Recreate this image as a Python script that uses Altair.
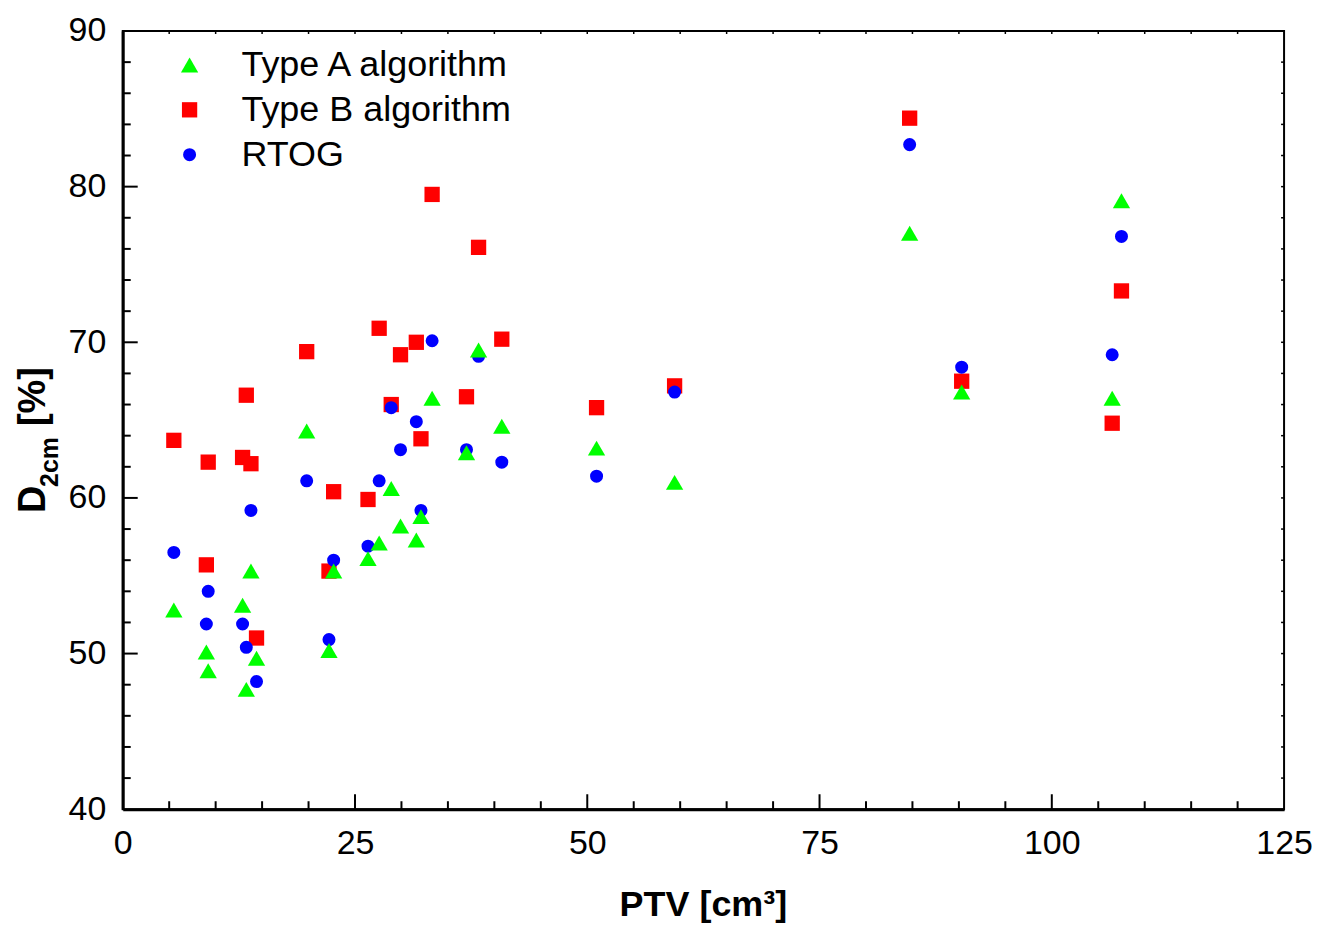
import altair as alt
import pandas as pd

# ---- data ----
ptv = [5.5, 9.0, 9.2, 12.9, 13.3, 13.8, 14.4, 19.8, 22.2, 22.7, 26.4, 27.6, 28.9,
       29.9, 31.6, 32.1, 33.3, 37.0, 38.3, 40.8, 51.0, 59.4, 84.7, 90.3, 106.5, 107.5]
type_a = [52.8, 50.1, 48.9, 53.1, 47.7, 55.3, 49.7, 64.3, 50.2, 55.3, 56.1, 57.1, 60.6,
          58.2, 57.3, 58.8, 66.4, 62.9, 69.5, 64.6, 63.2, 61.0, 77.0, 66.8, 66.4, 79.1]
type_b = [63.7, 55.7, 62.3, 62.6, 66.6, 62.2, 51.0, 69.4, 55.3, 60.4, 59.9, 70.9, 66.0,
          69.2, 70.0, 63.8, 79.5, 66.5, 76.1, 70.2, 65.8, 67.2, 84.4, 67.5, 64.8, 73.3]
rtog = [56.5, 51.9, 54.0, 51.9, 50.4, 59.2, 48.2, 61.1, 50.9, 56.0, 56.9, 61.1, 65.8,
        63.1, 64.9, 59.2, 70.1, 63.1, 69.1, 62.3, 61.4, 66.8, 82.7, 68.4, 69.2, 76.8]

series_names = ["Type A algorithm", "Type B algorithm", "RTOG"]
series_colors = ["#00ff00", "#ff0000", "#0000ff"]
series_shapes = ["triangle-up", "square", "circle"]

x_labels = [0, 25, 50, 75, 100, 125]
y_labels = [40, 50, 60, 70, 80, 90]
x_major = [25, 50, 75, 100]
x_minor = [5, 10, 15, 20, 30, 35, 40, 45, 55, 60, 65, 70, 80, 85, 90, 95, 105, 110, 115, 120]
y_major = [50, 60, 70, 80]
y_minor = [42, 44, 46, 48, 52, 54, 56, 58, 62, 64, 66, 68, 72, 74, 76, 78, 82, 84, 86, 88]

x_title = "PTV [cm³]"
y_title_main = "D"
y_title_sub = "2cm"
y_title_rest = " [%]"

# ---- build table (drawing order: B, RTOG, A on top) ----
rows = []
for name, vals in [("Type B algorithm", type_b), ("RTOG", rtog), ("Type A algorithm", type_a)]:
    for xv, yv in zip(ptv, vals):
        rows.append({"ptv": xv, "d2": yv, "series": name})
df = pd.DataFrame(rows)

W, H = 1164, 780
FONT = "Liberation Sans"

xscale = alt.Scale(domain=[0, 125], nice=False, zero=False)
yscale = alt.Scale(domain=[40, 90], nice=False, zero=False)
xaxis = alt.Axis(values=x_labels, ticks=False, grid=False, domainWidth=3,
                 domainColor="black", labelFontSize=34, labelFont=FONT,
                 labelColor="black", labelPadding=17, labelFlush=False, title=None)
yaxis = alt.Axis(values=y_labels, ticks=False, grid=False, domainWidth=3,
                 domainColor="black", labelFontSize=34, labelFont=FONT,
                 labelColor="black", labelPadding=17, title=None)

legend = alt.Legend(title=None, orient="none", legendX=49, legendY=16,
                    labelFontSize=36, labelFont=FONT, labelColor="black", labelLimit=600,
                    symbolSize=200, symbolStrokeWidth=0, labelOffset=34,
                    rowPadding=9, padding=0)

points = alt.Chart(df).mark_point(filled=True, opacity=1, strokeWidth=0).encode(
    x=alt.X("ptv:Q", scale=xscale, axis=xaxis),
    y=alt.Y("d2:Q", scale=yscale, axis=yaxis),
    color=alt.Color("series:N", scale=alt.Scale(domain=series_names, range=series_colors),
                    legend=legend),
    shape=alt.Shape("series:N", scale=alt.Scale(domain=series_names, range=series_shapes),
                    legend=legend),
    size=alt.Size("series:N", scale=alt.Scale(domain=series_names, range=[300, 170, 240]),
                  legend=None),
)


def xticks(vals, y0, y1, sw=2):
    return alt.Chart(pd.DataFrame({"ptv": vals})).mark_rule(color="black", strokeWidth=sw).encode(
        x=alt.X("ptv:Q", scale=xscale, axis=xaxis), y=alt.value(y0), y2=alt.value(y1))


def yticks(vals, x0, x1, sw=2):
    return alt.Chart(pd.DataFrame({"d2": vals})).mark_rule(color="black", strokeWidth=sw).encode(
        y=alt.Y("d2:Q", scale=yscale, axis=yaxis), x=alt.value(x0), x2=alt.value(x1))


tick_layers = [
    xticks(x_major, H, H - 15),
    xticks(x_minor, H, H - 8),
    xticks(x_major + x_minor, 0, 3, 1.5),
    yticks(y_major, 0, 15),
    yticks(y_minor, 0, 8),
    yticks(y_major + y_minor, W, W - 3, 1.5),
]

xt = alt.Chart(pd.DataFrame({"t": [x_title]})).mark_text(
    font=FONT, fontSize=36, fontWeight="bold", color="black",
    align="center", baseline="alphabetic").encode(
    text="t:N", x=alt.value(W / 2), y=alt.value(887))

yt1 = alt.Chart(pd.DataFrame({"t": [y_title_main]})).mark_text(
    font=FONT, fontSize=38, fontWeight="bold", color="black", angle=270,
    align="left", baseline="alphabetic").encode(text="t:N", x=alt.value(-78), y=alt.value(483))
yt2 = alt.Chart(pd.DataFrame({"t": [y_title_sub]})).mark_text(
    font=FONT, fontSize=25, fontWeight="bold", color="black", angle=270,
    align="left", baseline="alphabetic").encode(text="t:N", x=alt.value(-65), y=alt.value(457))
yt3 = alt.Chart(pd.DataFrame({"t": [y_title_rest]})).mark_text(
    font=FONT, fontSize=38, fontWeight="bold", color="black", angle=270,
    align="left", baseline="alphabetic").encode(text="t:N", x=alt.value(-78), y=alt.value(396))

chart = alt.layer(points, *tick_layers, xt, yt1, yt2, yt3).properties(
    width=W, height=H,
    autosize=alt.AutoSizeParams(type="none"),
    padding={"left": 115, "top": 22, "right": 28, "bottom": 118},
).configure(font=FONT).configure_view(stroke="black", strokeWidth=2)

chart.save("out.html", embed_options={"renderer": "svg", "actions": False})
